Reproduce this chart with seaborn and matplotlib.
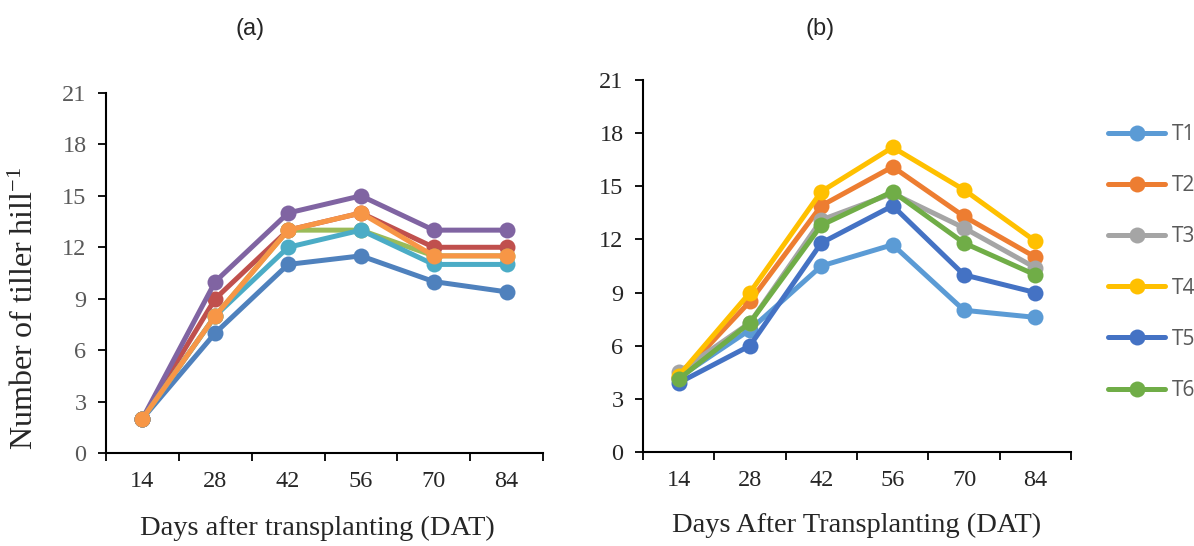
import numpy as np
import pandas as pd
import matplotlib
matplotlib.use("Agg")
import matplotlib.pyplot as plt
import seaborn as sns

days = [14, 28, 42, 56, 70, 84]

# panel (a): six unnamed series
a_blue = [2, 7, 11, 11.5, 10, 9.4]
a_red = [2, 9, 13, 14, 12, 12]
a_green = [2, 8, 13, 13, 11.5, 11.5]
a_purple = [2, 10, 14, 15, 13, 13]
a_aqua = [2, 8, 12, 13, 11, 11]
a_orange = [2, 8, 13, 14, 11.5, 11.5]

# panel (b): treatments T1..T6
t1 = [4.2, 6.9, 10.5, 11.7, 8.0, 7.6]
t2 = [4.2, 8.5, 13.9, 16.1, 13.3, 11.0]
t3 = [4.5, 7.3, 13.1, 14.6, 12.65, 10.4]
t4 = [4.3, 9.0, 14.7, 17.2, 14.8, 11.9]
t5 = [3.9, 6.0, 11.8, 13.9, 10.0, 9.0]
t6 = [4.1, 7.3, 12.8, 14.7, 11.8, 10.0]

a_series = {"S1": a_blue, "S2": a_red, "S3": a_green,
            "S4": a_purple, "S5": a_aqua, "S6": a_orange}
a_colors = ["#4F81BD", "#C0504D", "#9BBB59", "#8064A2", "#4BACC6", "#F79646"]
b_series = {"T1": t1, "T2": t2, "T3": t3, "T4": t4, "T5": t5, "T6": t6}
b_colors = ["#5B9BD5", "#ED7D31", "#A5A5A5", "#FFC000", "#4472C4", "#70AD47"]

sns.set_style("white")
plt.rcParams["font.family"] = ["Liberation Serif", "DejaVu Serif"]

def long_form(series):
    rows = []
    for name, vals in series.items():
        for i, v in enumerate(vals):
            rows.append({"pos": i, "value": v, "series": name})
    return pd.DataFrame(rows)

df_a = long_form(a_series)
df_b = long_form(b_series)

fig = plt.figure(figsize=(11.94, 5.46), dpi=100)
ax_a = fig.add_axes([0.0888, 0.1703, 0.366, 0.6594])
ax_b = fig.add_axes([0.5385, 0.1722, 0.3585, 0.6813])

for ax, df, colors in [(ax_a, df_a, a_colors), (ax_b, df_b, b_colors)]:
    sns.lineplot(data=df, x="pos", y="value", hue="series", palette=colors,
                 marker="o", markersize=11.5, markeredgewidth=0, linewidth=3.6,
                 ax=ax, legend=(ax is ax_b))
    ax.set_xlim(-0.5, 5.5)
    ax.set_ylim(0, 21)
    ax.set_yticks(np.arange(0, 22, 3))
    ax.set_xticks(np.arange(-0.5, 6, 1))
    ax.set_xticklabels([])
    ax.set_xticks(range(6), minor=True)
    ax.set_xticklabels([str(d) for d in days], minor=True)
    ax.tick_params(axis="x", which="major", direction="out", length=6, width=1.3,
                   color="black", bottom=True)
    ax.tick_params(axis="x", which="minor", length=0, pad=13, labelsize=17.5)
    ax.tick_params(axis="y", direction="out", length=6, width=1.3, color="black",
                   left=True, labelsize=17.5, pad=8)
    for side in ["top", "right"]:
        ax.spines[side].set_visible(False)
    for side in ["left", "bottom"]:
        ax.spines[side].set_color("black")
        ax.spines[side].set_linewidth(1.5)
    ax.set_xlabel("")
    ax.set_ylabel("")
    ax.grid(False)

ax_a.tick_params(axis="y", labelcolor="#595959")

fig.text(0.021, 0.436, "Number of tiller hill$\\mathregular{^{-1}}$", rotation=90,
         ha="center", va="center", fontsize=23)
fig.text(0.2655, 0.033, "Days after transplanting (DAT)", ha="center", va="center", fontsize=20.5)
fig.text(0.7178, 0.038, "Days After Transplanting (DAT)", ha="center", va="center", fontsize=20.5)

fig.text(0.2094, 0.946, "(a)", ha="center", va="center", fontsize=17,
         family=["Liberation Sans Narrow", "Liberation Sans", "DejaVu Sans"])
fig.text(0.6868, 0.946, "(b)", ha="center", va="center", fontsize=17,
         family=["Liberation Sans Narrow", "Liberation Sans", "DejaVu Sans"])

leg = ax_b.legend(loc="upper left", bbox_to_anchor=(1108 / 1194, 0.773),
                  bbox_transform=fig.transFigure, frameon=False,
                  borderpad=0, borderaxespad=0,
                  handlelength=2.75, labelspacing=1.45, handletextpad=0.3,
                  prop={"family": ["Open Sans", "DejaVu Sans"], "size": 15})
for t in leg.get_texts():
    t.set_color("#595959")

fig.savefig("out.png", dpi=100)
